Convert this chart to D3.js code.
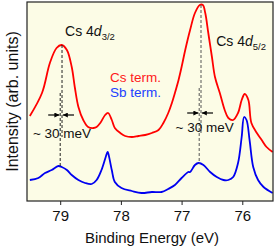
<!DOCTYPE html>
<html>
<head>
<meta charset="utf-8">
<script src="https://cdn.jsdelivr.net/npm/d3@7"></script>
<style>
  body { margin: 0; background: #fff; }
  svg text { font-family: "Liberation Sans", Arial, Helvetica, sans-serif; }
</style>
</head>
<body>
<div id="chart"></div>
<script>
// —— data (binding energy in eV, intensity in arb. units)
var csEnergy = [79.50,79.30,79.17,79.06,78.975,78.89,78.81,78.76,78.70,78.62,78.54,78.45,78.40,78.34,78.26,78.21,78.15,78.10,78.01,77.93,77.82,77.71,77.60,77.49,77.38,77.30,77.22,77.16,77.11,77.05,77.00,76.94,76.86,76.78,76.70,76.65,76.61,76.56,76.50,76.45,76.37,76.29,76.23,76.15,76.07,76.01,75.96,75.90,75.85,75.76,75.68,75.60,75.50];
var csIntensity = [85,108,138,153,156,151,134,114,94,81,74,73,74,78,86,88,81,73,68,65,64,65,66,68,71,78,88,98,108,121,134,151,171,188,196,196,188,168,144,124,108,91,83,81,88,101,107,101,78,68,61,54,49];

var sbEnergy = [79.50,79.36,79.25,79.14,79.03,78.975,78.89,78.81,78.70,78.59,78.48,78.40,78.32,78.25,78.22,78.21,78.15,78.10,77.99,77.82,77.66,77.49,77.33,77.22,77.11,77.00,76.89,76.86,76.78,76.72,76.64,76.53,76.42,76.31,76.23,76.15,76.07,76.01,75.97,75.93,75.88,75.82,75.74,75.65,75.50];
var sbIntensity = [21,23,28,31,35,34,31,26,21,18,17,21,31,44,49,48,31,19,13,10,8,9,9,12,16,23,29,29,36,38,36,29,24,21,21,24,38,64,84,81,61,34,21,14,8];

var peakCs = [78.97, 76.68];   // Cs term. peak positions
var peakSb = [79.00, 76.71];   // Sb term. peak positions
var xTicks = [79, 78, 77, 76];

// —————————— layout
var margin = {top: 2, right: 4, bottom: 48, left: 27},
    width = 277 - margin.left - margin.right,
    height = 249 - margin.top - margin.bottom;

var svg = d3.select("#chart")
  .append("svg")
    .attr("width", 277)
    .attr("height", 249);

var g = svg.append("g")
    .attr("transform", "translate(" + margin.left + "," + margin.top + ")");

var x = d3.scaleLinear().domain([79.547, 75.494]).range([0, width]);
var y = d3.scaleLinear().domain([0, 199]).range([height, 0]);

g.append("rect")
  .attr("width", width)
  .attr("height", height)
  .attr("fill", "#fcfce6");

// arrow head
svg.append("defs").append("marker")
  .attr("id", "head")
  .attr("viewBox", "0 0 10 10")
  .attr("refX", 10).attr("refY", 5)
  .attr("markerWidth", 5).attr("markerHeight", 5)
  .attr("markerUnits", "userSpaceOnUse")
  .attr("orient", "auto")
  .append("path")
    .attr("d", "M0,0 L10,5 L0,10 z")
    .attr("fill", "#000");

// —————————— curves
var line = d3.line()
  .x(function(d) { return x(d[0]); })
  .y(function(d) { return y(d[1]); })
  .curve(d3.curveCatmullRom.alpha(0.5));

g.append("path")
  .datum(d3.zip(csEnergy, csIntensity))
  .attr("d", line)
  .attr("fill", "none")
  .attr("stroke", "#ff0000")
  .attr("stroke-width", 1.8);

g.append("path")
  .datum(d3.zip(sbEnergy, sbIntensity))
  .attr("d", line)
  .attr("fill", "none")
  .attr("stroke", "#0000f0")
  .attr("stroke-width", 1.8);

// —————————— peak markers (dashed) + shift arrows
var csTo = [64, 68], sbFrom = [108, 113], arrowAt = [86, 88];
var dashCol = ["#222", "#555"];
peakCs.forEach(function(e, i) {
  var cy = csIntensity[csEnergy.indexOf(i == 0 ? 78.975 : 76.70)];
  g.append("line")
    .attr("x1", x(e)).attr("x2", x(e))
    .attr("y1", y(cy)).attr("y2", y(csTo[i]))
    .attr("stroke", dashCol[i]).attr("stroke-width", 1)
    .attr("stroke-dasharray", "3,2");
  var sy = sbIntensity[sbEnergy.indexOf(i == 0 ? 79.03 : 76.72)];
  g.append("line")
    .attr("x1", x(peakSb[i])).attr("x2", x(peakSb[i]))
    .attr("y1", y(sbFrom[i])).attr("y2", y(sy - 1))
    .attr("stroke", dashCol[i]).attr("stroke-width", 1)
    .attr("stroke-dasharray", "3,2");

  var ay = y(arrowAt[i]);
  g.append("line")
    .attr("x1", x(peakSb[i]) - 12).attr("x2", x(peakSb[i]) - 0.8)
    .attr("y1", ay).attr("y2", ay)
    .attr("stroke", "#000").attr("stroke-width", 1.2)
    .attr("marker-end", "url(#head)");
  g.append("line")
    .attr("x1", x(e) + 12).attr("x2", x(e) + 0.8)
    .attr("y1", ay).attr("y2", ay)
    .attr("stroke", "#000").attr("stroke-width", 1.2)
    .attr("marker-end", "url(#head)");
});

// "~ 30 meV" labels
[[79.45, 63], [77.10, 69]].forEach(function(p) {
  g.append("text")
    .attr("x", x(p[0])).attr("y", y(p[1]))
    .style("font-size", "13.5px")
    .attr("fill", "#111")
    .text("~ 30 meV");
});

// peak labels
[[78.92, 165, "3/2"], [76.43, 155, "5/2"]].forEach(function(p) {
  var t = g.append("text")
    .attr("x", x(p[0])).attr("y", y(p[1]))
    .style("font-size", "14px")
    .attr("fill", "#111");
  t.append("tspan").text("Cs 4");
  t.append("tspan").style("font-style", "italic").text("d");
  t.append("tspan").attr("dy", 4).style("font-size", "9.5px").text(p[2]);
});

// legend
g.append("text").attr("x", x(78.18)).attr("y", y(119))
  .style("font-size", "13.5px").attr("fill", "#ff1a1a").text("Cs term.");
g.append("text").attr("x", x(78.18)).attr("y", y(104))
  .style("font-size", "13.5px").attr("fill", "#2040ff").text("Sb term.");

// —————————— axes
var xAxis = g.append("g")
  .attr("transform", "translate(0," + height + ")")
  .call(d3.axisBottom(x).tickValues(xTicks).tickSize(4).tickPadding(5).tickFormat(d3.format("d")));
xAxis.select(".domain").remove();
xAxis.selectAll(".tick line").attr("stroke", "#222");
xAxis.selectAll(".tick text")
  .style("font-size", "15px")
  .attr("fill", "#111");

g.append("rect")
  .attr("width", width)
  .attr("height", height)
  .attr("fill", "none")
  .attr("stroke", "#222")
  .attr("stroke-width", 1.2);

svg.append("text")
  .attr("x", margin.left + width / 2 + 2)
  .attr("y", 243)
  .attr("text-anchor", "middle")
  .style("font-size", "15px")
  .attr("fill", "#111")
  .text("Binding Energy (eV)");

svg.append("text")
  .attr("transform", "translate(18," + (margin.top + height / 2) + ") rotate(-90)")
  .attr("text-anchor", "middle")
  .style("font-size", "16px")
  .attr("fill", "#111")
  .text("Intensity (arb. units)");
</script>
</body>
</html>
